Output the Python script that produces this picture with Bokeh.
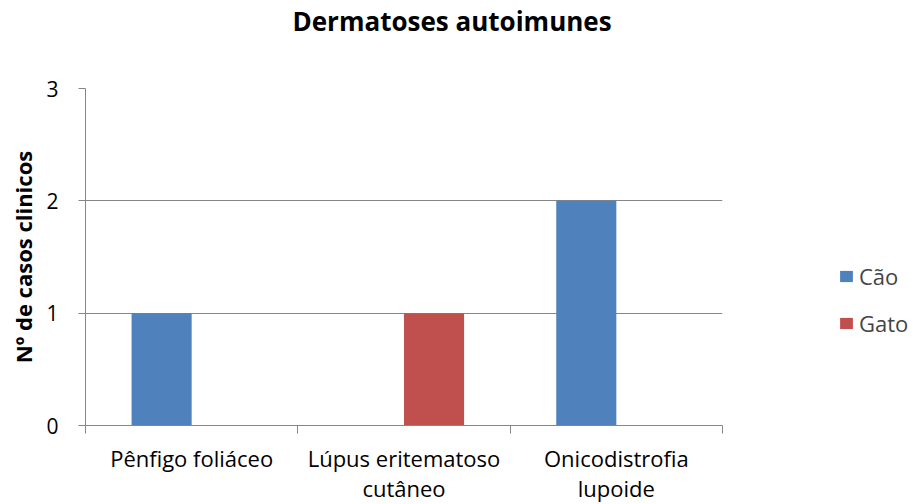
from bokeh.plotting import figure
from bokeh.models import FixedTicker, Range1d, Legend, LegendItem, Title
from bokeh.embed import file_html
from bokeh.resources import INLINE

categories = ["Pênfigo foliáceo", "Lúpus eritematoso\ncutâneo", "Onicodistrofia\nlupoide"]
cao = [1, 0, 2]
gato = [0, 1, 0]
series_names = ["Cão", "Gato"]
y_ticks = [0, 1, 2, 3]
title_text = "Dermatoses autoimunes"

FONT = "Open Sans"
GREY = "#868686"
BLUE = "#4F81BD"
RED = "#C0504D"

n = len(categories)
centers = [i + 0.5 for i in range(n)]
bw = 0.283

p = figure(output_backend="svg", toolbar_location=None,
           frame_width=637, frame_height=337,
           min_border_left=85, min_border_top=88, min_border_bottom=79, min_border_right=185,
           x_range=Range1d(0, n), y_range=Range1d(0, 3))
p.outline_line_color = None
p.background_fill_color = "white"
p.border_fill_color = "white"

r1 = p.vbar(x=[c - bw / 2 for c in centers], top=cao, width=bw, color=BLUE, line_color=None)
r2 = p.vbar(x=[c + bw / 2 for c in centers], top=gato, width=bw, color=RED, line_color=None)

# x axis
xa = p.xaxis[0]
xa.ticker = FixedTicker(ticks=centers, minor_ticks=list(range(n + 1)))
xa.major_label_overrides = {c: lab for c, lab in zip(centers, categories)}
xa.major_tick_line_color = None
xa.minor_tick_line_color = GREY
xa.minor_tick_in = 0
xa.minor_tick_out = 8
xa.axis_line_color = GREY
xa.major_label_text_font = FONT
xa.major_label_text_font_size = "22px"
xa.major_label_text_line_height = 1.0
xa.major_label_text_color = "black"
xa.major_label_standoff = 9

# y axis
ya = p.yaxis[0]
ya.ticker = FixedTicker(ticks=y_ticks, minor_ticks=[])
ya.axis_line_color = GREY
ya.major_tick_line_color = GREY
ya.major_tick_in = 0
ya.major_tick_out = 7
ya.major_label_text_font = FONT
ya.major_label_text_font_size = "21px"
ya.major_label_text_color = "black"
ya.major_label_standoff = 20
ya.axis_label = "Nº de casos clinicos"
ya.axis_label_text_font = FONT
ya.axis_label_text_font_style = "bold"
ya.axis_label_text_font_size = "22px"
ya.axis_label_text_color = "black"
ya.axis_label_standoff = 5

p.xgrid.grid_line_color = None
p.ygrid.ticker = FixedTicker(ticks=y_ticks)
p.ygrid.grid_line_color = GREY
p.ygrid.grid_line_width = 1

# real title (outermost) and a blank spacer title next to the frame
p.title = Title(text=title_text, align="left", offset=207,
                text_font=FONT, text_font_style="bold", text_font_size="26px",
                text_color="black", standoff=0)
p.add_layout(Title(text=" ", text_font=FONT, text_font_style="bold",
                   text_font_size="26px", standoff=12), "above")

legend = Legend(items=[LegendItem(label=series_names[0], renderers=[r1]),
                       LegendItem(label=series_names[1], renderers=[r2])],
                location=(116, 87), border_line_color=None, background_fill_alpha=0,
                padding=0, margin=0, spacing=17, glyph_width=16, glyph_height=14,
                label_standoff=5, label_height=29,
                label_text_font=FONT, label_text_font_size="22px")
p.add_layout(legend, "right")

open("out.html", "w").write(file_html(p, INLINE))
